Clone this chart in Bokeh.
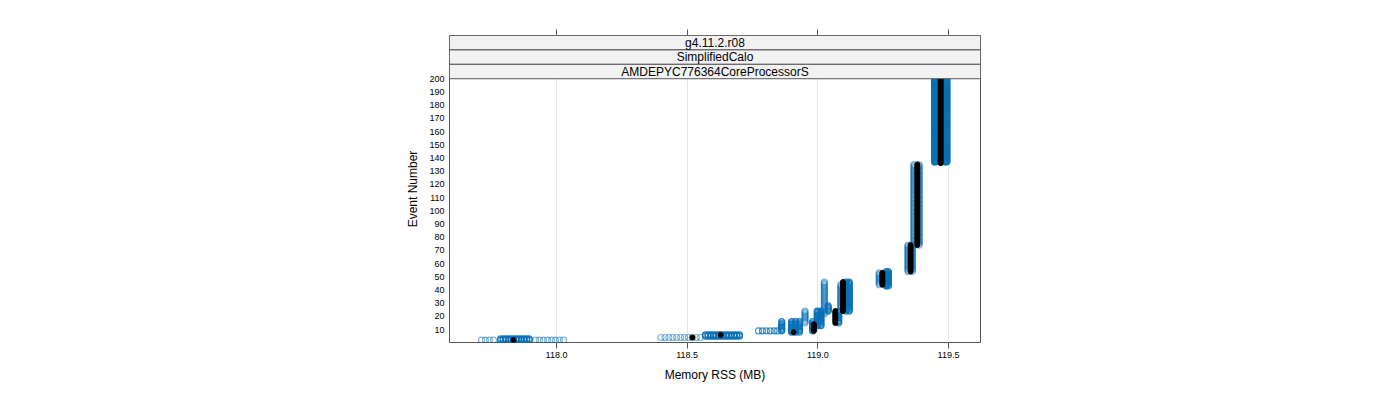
import numpy as np
from bokeh.plotting import figure
from bokeh.models import ColumnDataSource, FixedTicker, LinearAxis, Range1d
from bokeh.core.properties import value
from bokeh.embed import file_html
from bokeh.resources import INLINE

# ---- data ----
# blue series: memory level (MB) held by runs over a range of event numbers
blue_rss = [117.713, 117.728, 117.744, 117.759,
            117.786, 117.796, 117.806, 117.816, 117.826, 117.836, 117.846, 117.856, 117.866, 117.876, 117.886, 117.896,
            117.920, 117.935, 117.950, 117.966, 117.981, 117.996, 118.011, 118.027,
            118.400, 118.415, 118.430, 118.445, 118.460, 118.475, 118.490, 118.505, 118.520, 118.535, 118.550,
            118.570, 118.580, 118.590, 118.600, 118.610, 118.620, 118.630, 118.640, 118.650, 118.660, 118.670, 118.680, 118.690, 118.700,
            118.773, 118.788, 118.803, 118.818, 118.833, 118.846,
            118.862, 118.900, 118.915, 118.930, 118.951, 118.980, 118.998, 119.012, 119.025, 119.040,
            119.080, 119.088, 119.108, 119.120,
            119.235, 119.262, 119.270,
            119.345, 119.362, 119.368, 119.388,
            119.447, 119.452, 119.488, 119.494]
blue_first = [2, 2, 2, 2,
              2, 2, 2, 2, 2, 2, 2, 2, 2, 2, 2, 2,
              2, 2, 2, 2, 2, 2, 2, 2,
              4, 4, 4, 4, 4, 4, 4, 4, 4, 4, 4,
              5, 5, 5, 5, 5, 5, 5, 5, 5, 5, 5, 5, 5, 5,
              9, 9, 9, 9, 9, 9,
              9, 8, 8, 8, 15, 9, 13, 13, 22, 24,
              15, 26, 24, 24,
              44, 43, 43,
              54, 54, 74, 74,
              137, 137, 137, 137]
blue_last = [2, 2, 2, 2,
             3, 3, 3, 3, 3, 3, 3, 3, 3, 3, 3, 3,
             2, 2, 2, 2, 2, 2, 2, 2,
             4, 4, 4, 4, 4, 4, 4, 4, 4, 4, 4,
             6, 6, 6, 6, 6, 6, 6, 6, 6, 6, 6, 6, 6, 6,
             9, 9, 9, 9, 9, 9,
             16, 16, 16, 16, 24, 16, 24, 24, 46, 28,
             24, 44, 46, 46,
             53, 54, 54,
             74, 74, 135, 135,
             200, 200, 200, 200]
blue_runs = [1, 1, 1, 1,
             3, 3, 3, 3, 3, 3, 3, 3, 3, 3, 3, 3,
             1, 1, 1, 1, 1, 1, 1, 1,
             1, 1, 1, 1, 1, 1, 1, 1, 1, 1, 1,
             3, 3, 3, 3, 3, 3, 3, 3, 3, 3, 3, 3, 3, 3,
             2, 2, 2, 2, 2, 2,
             3, 4, 4, 3, 1, 3, 4, 4, 1, 3,
             3, 1, 3, 3,
             1, 3, 3,
             1, 1, 1, 1,
             4, 4, 4, 4]

# black series: reference run
black_rss = [117.835, 118.520, 118.628, 118.907, 118.985, 119.067, 119.096, 119.247, 119.355, 119.381, 119.470]
black_first = [2, 4, 6, 8, 9, 15, 24, 44, 54, 74, 136]
black_last = [2, 4, 6, 8, 14, 24, 46, 53, 74, 135, 200]

strip_labels = ["g4.11.2.r08", "SimplifiedCalo", "AMDEPYC776364CoreProcessorS"]
x_ticks = [118.0, 118.5, 119.0, 119.5]
x_tick_labels = ["118.0", "118.5", "119.0", "119.5"]
y_ticks = [10, 20, 30, 40, 50, 60, 70, 80, 90, 100, 110, 120, 130, 140, 150, 160, 170, 180, 190, 200]

# ---- expand segments into points ----
bx, by, ba = [], [], []
for r, f, l, n in zip(blue_rss, blue_first, blue_last, blue_runs):
    a = 1 - (1 - 0.5) ** n
    for e in range(f, l + 1):
        bx.append(r); by.append(e); ba.append(a)
kx, ky = [], []
for r, f, l in zip(black_rss, black_first, black_last):
    for e in range(f, l + 1):
        kx.append(r); ky.append(e)

FONT = "Liberation Sans"
X0, X1 = 117.5906, 119.6225
Y0, YP = 0.22, 200.0
k = 252.5 / 190.0  # px per event
strip_h = 14.5 / k
Y1 = YP + 3 * strip_h

p = figure(width=1384, height=384, output_backend="svg", toolbar_location=None,
           x_range=Range1d(X0, X1), y_range=Range1d(Y0, Y1),
           min_border_left=449, min_border_right=404, min_border_top=35, min_border_bottom=40,
           x_axis_location="below")
p.outline_line_color = "#555555"
p.outline_line_width = 1
p.background_fill_color = "white"
p.border_fill_color = "white"

p.xaxis.ticker = FixedTicker(ticks=x_ticks)
p.yaxis.ticker = FixedTicker(ticks=y_ticks)
for ax in p.xaxis + p.yaxis:
    ax.axis_line_color = None
    ax.minor_tick_line_color = None
    ax.major_label_text_font = FONT
    ax.major_label_text_font_size = "9px"
    ax.major_label_text_color = "black"
    ax.axis_label_text_font = FONT
    ax.axis_label_text_font_size = "12px"
    ax.axis_label_text_font_style = "normal"
    ax.axis_label_text_color = "black"
p.xaxis.major_label_overrides = {t: s for t, s in zip(x_ticks, x_tick_labels)}
p.xaxis.axis_label = "Memory RSS (MB)"
p.xaxis.major_tick_out = 6
p.xaxis.major_tick_in = 0
p.xaxis.major_tick_line_color = "#555555"
p.xaxis.major_label_standoff = 3
p.xaxis.axis_label_standoff = 7
p.yaxis.axis_label = "Event Number"
p.yaxis.major_tick_line_color = None
p.yaxis.major_tick_out = 0
p.yaxis.major_tick_in = 0
p.yaxis.major_label_standoff = 5
p.yaxis.axis_label_standoff = 6
p.yaxis.major_label_orientation = "horizontal"

top = LinearAxis(ticker=FixedTicker(ticks=x_ticks), axis_line_color=None,
                 major_tick_out=6, major_tick_in=0, major_tick_line_color="#555555",
                 minor_tick_line_color=None,
                 major_label_overrides={t: "" for t in x_ticks},
                 major_label_standoff=0)
p.add_layout(top, "above")

p.ygrid.grid_line_color = None
p.xgrid.grid_line_color = "#e6e6e6"
p.xgrid.grid_line_width = 1

p.scatter(bx, by, marker="circle", size=6, fill_color=None, line_color="#0870b5",
          line_alpha=ba, line_width=1.2)
p.scatter(kx, ky, marker="circle", size=5, fill_color="black", line_color="black")

# strips (drawn over the data)
bottoms = [YP + 2 * strip_h, YP + strip_h, YP]
p.quad(left=[X0] * 3, right=[X1] * 3, bottom=bottoms, top=[b + strip_h for b in bottoms],
       fill_color="#f2f2f2", line_color="#555555", line_width=1)
p.text(x=[(X0 + X1) / 2] * 3, y=[b + strip_h / 2 for b in bottoms], text=strip_labels,
       text_font=value(FONT), text_font_size="12px", text_align="center",
       text_baseline="middle", text_color="black")

open("out.html", "w").write(file_html(p, INLINE))
